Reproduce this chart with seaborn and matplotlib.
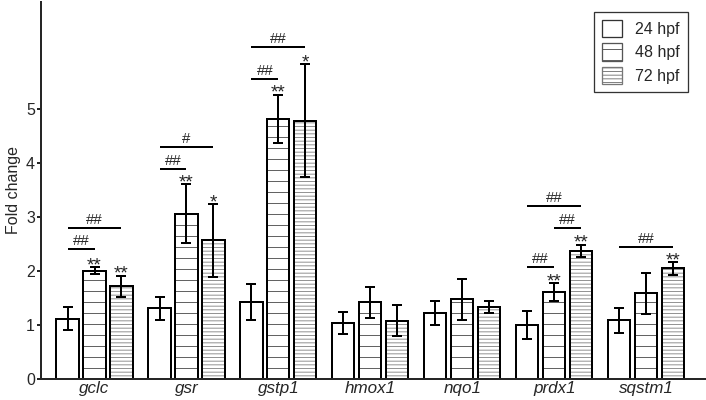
import numpy as np
import pandas as pd
import matplotlib
matplotlib.use("Agg")
import matplotlib.pyplot as plt
from matplotlib.patches import Rectangle, Patch
import seaborn as sns

# Dados
genes = ["gclc", "gsr", "gstp1", "hmox1", "nqo1", "prdx1", "sqstm1"]
stages = ["24 hpf", "48 hpf", "72 hpf"]
fold_24 = [1.12, 1.31, 1.43, 1.04, 1.22, 1.00, 1.09]
fold_48 = [2.01, 3.07, 4.82, 1.42, 1.48, 1.61, 1.59]
fold_72 = [1.72, 2.57, 4.79, 1.08, 1.33, 2.38, 2.05]
sd_24 = [0.22, 0.22, 0.34, 0.20, 0.22, 0.26, 0.23]
sd_48 = [0.06, 0.54, 0.45, 0.29, 0.38, 0.17, 0.38]
sd_72 = [0.20, 0.67, 1.05, 0.29, 0.11, 0.11, 0.12]

# asteriscos (gene, estagio, texto)
stars = [
    ("gclc", "48 hpf", "**"), ("gclc", "72 hpf", "**"),
    ("gsr", "48 hpf", "**"), ("gsr", "72 hpf", "*"),
    ("gstp1", "48 hpf", "**"), ("gstp1", "72 hpf", "*"),
    ("prdx1", "48 hpf", "**"), ("prdx1", "72 hpf", "**"),
    ("sqstm1", "72 hpf", "**"),
]
# barras de comparacao (gene, de, ate, altura, texto)
brackets = [
    ("gclc", "24 hpf", "48 hpf", 2.41, "##"),
    ("gclc", "24 hpf", "72 hpf", 2.81, "##"),
    ("gsr", "24 hpf", "48 hpf", 3.90, "##"),
    ("gsr", "24 hpf", "72 hpf", 4.31, "#"),
    ("gstp1", "24 hpf", "48 hpf", 5.57, "##"),
    ("gstp1", "24 hpf", "72 hpf", 6.15, "##"),
    ("prdx1", "24 hpf", "48 hpf", 2.08, "##"),
    ("prdx1", "48 hpf", "72 hpf", 2.81, "##"),
    ("prdx1", "24 hpf", "72 hpf", 3.21, "##"),
    ("sqstm1", "24 hpf", "72 hpf", 2.45, "##"),
]

df = pd.DataFrame({
    "gene": genes * 3,
    "stage": [s for s in stages for _ in genes],
    "fold": fold_24 + fold_48 + fold_72,
    "sd": sd_24 + sd_48 + sd_72,
})

DPI = 66
PT = 72 / DPI  # px -> pt

sns.set_style("ticks")
plt.rcParams["font.family"] = ["Liberation Sans", "DejaVu Sans"]
plt.rcParams["hatch.linewidth"] = 1.0

fig = plt.figure(figsize=(706 / DPI, 400 / DPI), dpi=DPI)
ax = fig.add_axes([0.0577, 0.0525, 0.9423, 0.9433])

sns.barplot(data=df, x="gene", y="fold", hue="stage", order=genes, hue_order=stages,
            errorbar=None, palette=["white"] * 3, edgecolor="black",
            linewidth=2 * PT, width=0.88, gap=0.18, legend=False, ax=ax)

hatches = ["", "-", "---"]
hatch_cols = ["black", "#555555", "#8a8a8a"]
bar_conts = list(ax.containers)
bar_pos = {}
for k, cont in enumerate(bar_conts):
    sds = df[df["stage"] == stages[k]]["sd"].values
    for j, bar in enumerate(cont):
        x = bar.get_x() + bar.get_width() / 2
        h = bar.get_height()
        bar_pos[(genes[j], stages[k])] = (x, h + sds[j])
        if hatches[k]:
            bar.set_hatch(hatches[k])
            bar.set_edgecolor(hatch_cols[k])
            bar.set_linewidth(0)
            ax.add_patch(Rectangle(bar.get_xy(), bar.get_width(), h, fill=False,
                                   ec="black", lw=2 * PT, zorder=bar.get_zorder() + 0.1))
        ax.errorbar(x, h, yerr=sds[j], fmt="none", ecolor="black", elinewidth=2 * PT,
                    capsize=5 * PT, capthick=2 * PT, zorder=5)

for g, s, txt in stars:
    x, top = bar_pos[(g, s)]
    ax.annotate(txt, (x, top), xytext=(0, -3 * PT), textcoords="offset points",
                ha="center", va="baseline", fontsize=19 * PT)

for g, s1, s2, yv, txt in brackets:
    x1 = bar_pos[(g, s1)][0]
    x2 = bar_pos[(g, s2)][0]
    ax.plot([x1, x2], [yv, yv], color="black", lw=2 * PT, solid_capstyle="butt")
    ax.annotate(txt, ((x1 + x2) / 2, yv), xytext=(0, 1 * PT), textcoords="offset points",
                ha="center", va="bottom", fontsize=15 * PT)

ax.set_xlim(-0.585, 6.65)
ax.set_ylim(0, 7)
ax.set_yticks(range(6))
ax.set_xlabel("")
ax.set_ylabel("Fold change", fontsize=16 * PT, labelpad=5)
ax.tick_params(axis="y", labelsize=16 * PT, length=4 * PT, width=2 * PT, pad=2)
ax.tick_params(axis="x", labelsize=17 * PT, length=0, pad=2)
for lab in ax.get_xticklabels():
    lab.set_fontstyle("italic")
sns.despine(ax=ax)
ax.spines["left"].set_linewidth(2 * PT)
ax.spines["bottom"].set_linewidth(2 * PT)

handles = [Patch(facecolor="white", edgecolor="#333333", lw=1.3 * PT),
           Patch(facecolor="white", edgecolor="#555555", hatch="-", lw=1.3 * PT),
           Patch(facecolor="white", edgecolor="#777777", hatch="---", lw=1.3 * PT)]
leg = ax.legend(handles, stages, loc="upper right", bbox_to_anchor=(0.973, 0.973),
                fontsize=16 * PT, frameon=True, fancybox=False, handlelength=1.3,
                handleheight=1.3, handletextpad=0.8, borderpad=0.5, labelspacing=0.38,
                borderaxespad=0)
leg.get_frame().set_edgecolor("black")
leg.get_frame().set_linewidth(1.3 * PT)

fig.savefig("out.png", dpi=DPI)
